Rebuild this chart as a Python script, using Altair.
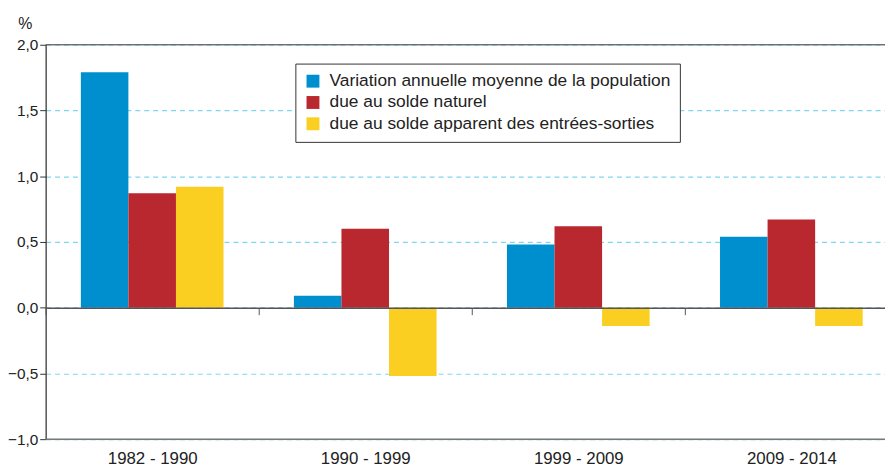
import altair as alt
import pandas as pd

periods = ["1982 - 1990", "1990 - 1999", "1999 - 2009", "2009 - 2014"]
series = [
    "Variation annuelle moyenne de la population",
    "due au solde naturel",
    "due au solde apparent des entrées-sorties",
]
total = [1.79, 0.09, 0.48, 0.54]
naturel = [0.87, 0.60, 0.62, 0.67]
migratoire = [0.92, -0.52, -0.14, -0.14]
colors = ["#008fce", "#b9272f", "#fbcf21"]
y_ticks = [-1.0, -0.5, 0.0, 0.5, 1.0, 1.5, 2.0]

rows = []
for name, vals in zip(series, [total, naturel, migratoire]):
    for p, v in zip(periods, vals):
        rows.append({"period": p, "serie": name, "value": v})
df = pd.DataFrame(rows)

W = 847
H = 398
zero_off = H / 3.0

xscale = alt.Scale(domain=periods, range=[0, 860], paddingInner=0, paddingOuter=0)
yscale = alt.Scale(domain=[-1, 2], nice=False, zero=False)

bars = alt.Chart(df).mark_bar().encode(
    x=alt.X(
        "period:N",
        scale=xscale,
        sort=periods,
        axis=alt.Axis(
            title=None,
            orient="bottom",
            offset=-zero_off,
            domain=True,
            domainColor="#555555",
            domainWidth=1.5,
            ticks=True,
            tickBand="extent",
            tickSize=7,
            tickColor="#555555",
            labelAngle=0,
            labelPadding=137,
            labelFontSize=17,
            labelColor="#222222",
            labelFont="Liberation Sans",
            zindex=1,
            grid=False,
        ),
    ),
    xOffset=alt.XOffset(
        "serie:N",
        sort=series,
        scale=alt.Scale(domain=series, paddingInner=0, paddingOuter=0.74),
    ),
    y=alt.Y(
        "value:Q",
        scale=yscale,
        axis=alt.Axis(
            title="%",
            titleAngle=0,
            titleX=-21,
            titleY=-16,
            titleAlign="center",
            titleBaseline="alphabetic",
            titleFontSize=16,
            titleFontWeight="normal",
            titleFont="Liberation Sans",
            titleColor="#222222",
            values=y_ticks,
            labelExpr="replace(format(datum.value, '.1f'), '.', ',')",
            labelFontSize=15.5,
            labelFont="Liberation Sans",
            labelColor="#222222",
            labelPadding=2,
            domainColor="#333333",
            domainWidth=1.2,
            tickColor="#333333",
            tickSize=6,
            grid=True,
            gridColor="#7fd6f5",
            gridDash=[5, 4],
            gridWidth=1.2,
        ),
    ),
    color=alt.Color(
        "serie:N",
        scale=alt.Scale(domain=series, range=colors),
        sort=series,
        legend=alt.Legend(
            title=None,
            orient="none",
            legendX=252,
            legendY=19,
            strokeColor="#333333",
            fillColor="white",
            padding=9,
            symbolType="square",
            symbolSize=169,
            symbolStrokeWidth=0,
            symbolOpacity=1,
            labelFontSize=17.5,
            labelFont="Liberation Sans",
            labelColor="#222222",
            labelOffset=8,
            rowPadding=2.5,
            labelLimit=500,
        ),
    ),
)

top_line = alt.Chart(pd.DataFrame({"v": [2.0]})).mark_rule(color="#444444", strokeWidth=1.2).encode(
    y=alt.Y("v:Q", scale=yscale)
)
bottom_line = alt.Chart(pd.DataFrame({"v": [-1.0]})).mark_rule(color="#777777", strokeWidth=1.5).encode(
    y=alt.Y("v:Q", scale=yscale)
)

chart = alt.layer(bars, top_line, bottom_line).properties(
    width=W,
    height=H,
    autosize=alt.AutoSizeParams(type="none"),
    padding={"left": 38, "top": 35, "right": 0, "bottom": 27},
).configure_view(stroke=None).configure(font="Liberation Sans")

chart.save("out.html", embed_options={"renderer": "svg", "actions": False})
